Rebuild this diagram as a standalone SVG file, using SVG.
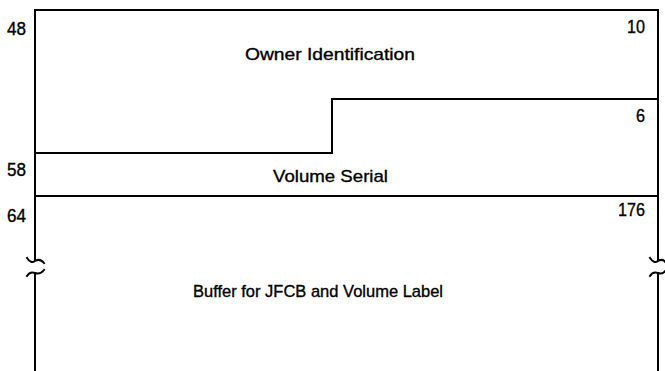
<svg xmlns="http://www.w3.org/2000/svg" width="665" height="371" viewBox="0 0 665 371">
<style>
.ln{stroke:#000;stroke-width:2;fill:none;stroke-linecap:square}
.t{font-family:"Liberation Sans",Arial,sans-serif;font-size:17px;fill:#000;stroke:#000;stroke-width:0.35}
.n{font-family:"Liberation Sans",Arial,sans-serif;font-size:18px;fill:#000;stroke:#000;stroke-width:0.35}
</style>
<rect width="665" height="371" fill="#fff"/>
<g id="frame">
<path class="ln" d="M35 10 H658"/>
<path class="ln" d="M35 10 V260"/>
<path class="ln" d="M658 10 V260"/>
<path class="ln" d="M35 273 V371"/>
<path class="ln" d="M658 273 V371"/>
<path class="ln" d="M27 258 Q31 264 35 261 Q40 258 44 263" stroke-linecap="round"/>
<path class="ln" d="M27 276 Q30 271 35 273 Q40 275 44 270" stroke-linecap="round"/>
<path class="ln" d="M650 258 Q654 264 658 261 Q663 258 666 263" stroke-linecap="round"/>
<path class="ln" d="M650 276 Q653 271 658 273 Q663 275 666 270" stroke-linecap="round"/>
</g>
<g id="owner">
<path class="ln" d="M35 153 H332 V99 H658"/>
<text class="n" x="7" y="35" textLength="19" lengthAdjust="spacingAndGlyphs">48</text>
<text class="n" x="627" y="33" textLength="18" lengthAdjust="spacingAndGlyphs">10</text>
<text class="t" x="245" y="60" textLength="170" lengthAdjust="spacingAndGlyphs">Owner Identification</text>
</g>
<g id="volser">
<path class="ln" d="M35 196 H658"/>
<text class="n" x="636" y="122" textLength="9" lengthAdjust="spacingAndGlyphs">6</text>
<text class="n" x="7" y="176" textLength="19" lengthAdjust="spacingAndGlyphs">58</text>
<text class="t" x="273" y="182" textLength="115" lengthAdjust="spacingAndGlyphs">Volume Serial</text>
</g>
<g id="buffer">
<text class="n" x="7" y="222" textLength="19" lengthAdjust="spacingAndGlyphs">64</text>
<text class="n" x="618" y="216" textLength="27" lengthAdjust="spacingAndGlyphs">176</text>
<text class="t" x="193" y="297" textLength="250" lengthAdjust="spacingAndGlyphs">Buffer for JFCB and Volume Label</text>
</g>
</svg>
